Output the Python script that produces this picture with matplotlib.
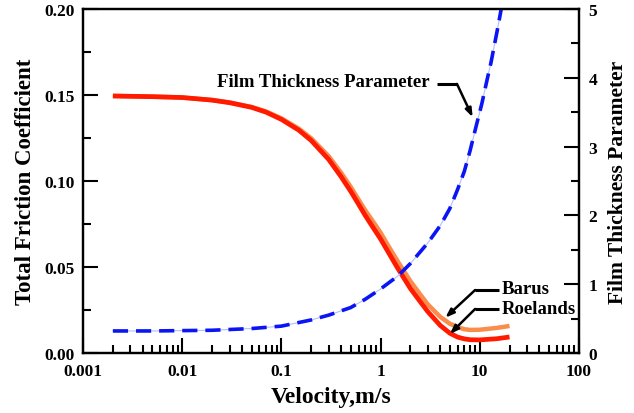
import numpy as np
import matplotlib.pyplot as plt
from matplotlib.ticker import FixedLocator, MultipleLocator, NullFormatter, FormatStrFormatter

plt.rcParams['font.family'] = ['Liberation Serif', 'DejaVu Serif']
plt.rcParams['font.weight'] = 'bold'

# velocity (m/s)
velocity = [0.002, 0.005, 0.01, 0.02, 0.03, 0.05, 0.07, 0.1, 0.15, 0.2, 0.3, 0.4, 0.5, 0.6, 0.7,
            0.85, 1.0, 1.2, 1.5, 2.0, 2.5, 3.0, 4.0, 5.0, 6.0, 7.0, 8.0, 10.0, 15.0, 20.0]
# total friction coefficient, Roelands viscosity model
mu_roelands = [0.1494, 0.149, 0.1485, 0.147, 0.1455, 0.1428, 0.1400, 0.1358, 0.1295, 0.1235,
               0.1125, 0.1025, 0.0940, 0.0865, 0.0800, 0.0725, 0.0663, 0.0585, 0.0490, 0.0375,
               0.0300, 0.0240, 0.0160, 0.0115, 0.0092, 0.0082, 0.0077, 0.0076, 0.0083, 0.0093]
# total friction coefficient, Barus viscosity model
mu_barus = [0.1494, 0.149, 0.1485, 0.147, 0.1456, 0.1430, 0.1404, 0.1364, 0.1304, 0.1248,
            0.1144, 0.1048, 0.0966, 0.0892, 0.0830, 0.0760, 0.0700, 0.0622, 0.0530, 0.0418,
            0.0342, 0.0282, 0.0210, 0.0170, 0.0150, 0.0138, 0.0134, 0.0135, 0.0146, 0.0157]

# film thickness parameter
velocity_film = [0.002, 0.005, 0.01, 0.02, 0.05, 0.1, 0.2, 0.3, 0.5, 0.7, 1.0, 1.5, 2.0,
                 3.0, 4.0, 5.0, 6.0, 7.0, 8.0, 9.3, 10.5, 12.0, 13.0, 15.0, 16.5]
film = [0.32, 0.32, 0.325, 0.33, 0.355, 0.39, 0.48, 0.55, 0.66, 0.78, 0.93, 1.12, 1.30,
        1.60, 1.85, 2.10, 2.38, 2.64, 2.94, 3.32, 3.62, 4.00, 4.22, 4.68, 5.0]

fig = plt.figure(figsize=(6.34, 4.14), dpi=100)
ax = fig.add_axes([0.131, 0.145, 0.782, 0.831])
ax2 = ax.twinx()

ax.semilogx(velocity, mu_barus, color='#fa8c4c', lw=3.2, solid_capstyle='butt')
ax.semilogx(velocity, mu_roelands, color='#ff1a00', lw=3.4, solid_capstyle='butt')

ax2.plot(velocity_film, film, color='#b4bcff', lw=0.8)
ax2.plot(velocity_film, film, color='#0a14f5', lw=2.6, dashes=(4.2, 2.2))

ax.set_xscale('log')
ax.set_xlim(0.001, 100)
ax.set_ylim(0, 0.2)
ax2.set_ylim(0, 5)

ax.set_xticks([0.001, 0.01, 0.1, 1, 10, 100])
ax.set_xticklabels(['0.001', '0.01', '0.1', '1', '10', '100'])
ax.xaxis.set_minor_locator(FixedLocator([m * 10.0 ** e for e in range(-3, 2) for m in range(2, 10)]))
ax.xaxis.set_minor_formatter(NullFormatter())
ax.yaxis.set_major_locator(MultipleLocator(0.05))
ax.yaxis.set_minor_locator(MultipleLocator(0.025))
ax.yaxis.set_major_formatter(FormatStrFormatter('%.2f'))
ax2.yaxis.set_major_locator(MultipleLocator(1))
ax2.yaxis.set_minor_locator(MultipleLocator(0.5))

for a in (ax, ax2):
    a.tick_params(which='major', direction='in', length=11, width=1.5, labelsize=12.5)
    a.tick_params(which='minor', direction='in', length=6, width=1.5)
    for s in a.spines.values():
        s.set_linewidth(1.6)
ax.tick_params(top=False, right=False)
ax.tick_params(axis='x', pad=7)
ax.tick_params(axis='y', pad=6)
ax2.tick_params(axis='y', pad=7)

ax.set_xlabel('Velocity,m/s', fontsize=17, fontweight='bold', labelpad=5)
ax.set_ylabel('Total Friction Coefficient', fontsize=16.5, fontweight='bold', labelpad=6)
ax2.set_ylabel('Film Thickness Parameter', fontsize=15.5, fontweight='bold', labelpad=8)


def leader(text, text_xy, knee_start, knee, tip, ha):
    ax.text(text_xy[0], text_xy[1], text, fontsize=13.5, fontweight='bold', ha=ha, va='center')
    ax.plot([knee_start[0], knee[0]], [knee_start[1], knee[1]], color='black', lw=2.2,
            solid_capstyle='butt')
    ax.annotate('', xy=tip, xytext=knee,
                arrowprops=dict(arrowstyle='-|>,head_length=0.5,head_width=0.18',
                                color='black', lw=1.8, shrinkA=0, shrinkB=0))


leader('Film Thickness Parameter', (3.1, 0.1576), (3.7, 0.1564), (5.9, 0.1564), (8.5, 0.137), 'right')
leader('Barus', (16.5, 0.0372), (15.5, 0.0366), (9.0, 0.0366), (4.5, 0.0205), 'left')
leader('Roelands', (16.5, 0.0256), (15.5, 0.0256), (9.0, 0.0256), (5.0, 0.0110), 'left')

fig.savefig('out.png', dpi=100)
